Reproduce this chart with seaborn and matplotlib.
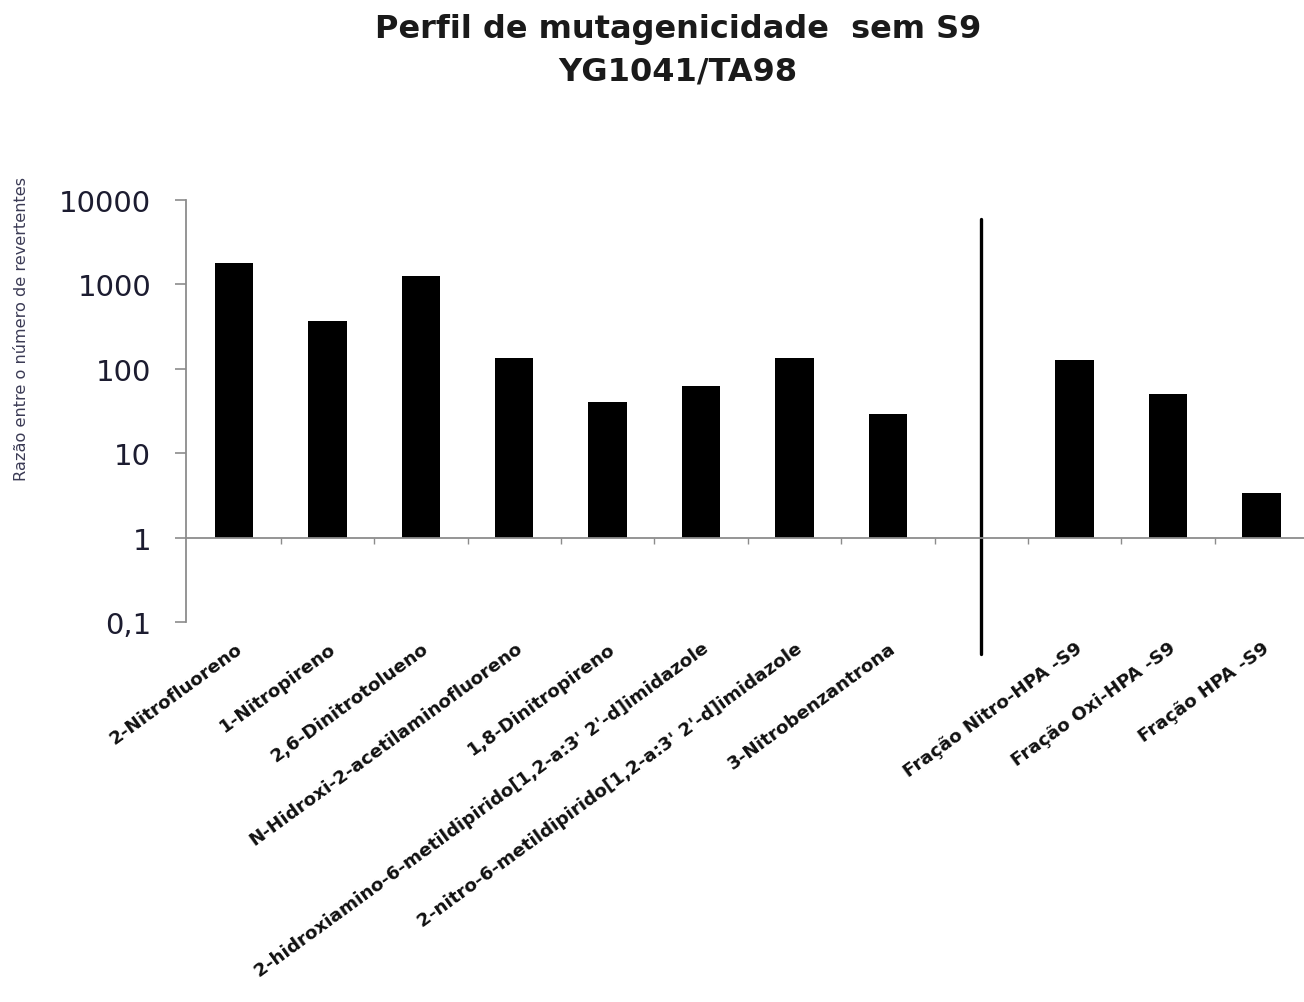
import matplotlib
matplotlib.use("Agg")
import matplotlib.pyplot as plt
import matplotlib.transforms as mtransforms
import numpy as np
import pandas as pd
import seaborn as sns
from matplotlib.ticker import FixedLocator, FixedFormatter, NullLocator

# Reference mutagens (ratio of revertants, strain YG1041/TA98, without S9)
compounds = [
    "2-Nitrofluoreno",
    "1-Nitropireno",
    "2,6-Dinitrotolueno",
    "N-Hidroxi-2-acetilaminofluoreno",
    "1,8-Dinitropireno",
    "2-hidroxiamino-6-metildipirido[1,2-a:3' 2'-d]imidazole",
    "2-nitro-6-metildipirido[1,2-a:3' 2'-d]imidazole",
    "3-Nitrobenzantrona",
]
compound_ratio = [1780, 365, 1250, 133, 40, 63, 136, 29]

# Environmental sample fractions
fractions = ["Fração Nitro-HPA -S9", "Fração Oxi-HPA -S9", "Fração HPA -S9"]
fraction_ratio = [126, 50, 3.4]

separator = " "
y_ticks = [0.1, 1, 10, 100, 1000, 10000]
y_tick_labels = ["0,1", "1", "10", "100", "1000", "10000"]

order = compounds + [separator] + fractions
df = pd.DataFrame({"amostra": compounds + fractions,
                   "razao": compound_ratio + fraction_ratio})

sns.set_theme(style="white")
plt.rcParams["font.family"] = ["DejaVu Sans"]

W, H = 1304, 1003
fig = plt.figure(figsize=(W / 100, H / 100), dpi=100)
ax = fig.add_axes([186 / W, 1 - 623 / H, (W - 186) / W, 422 / H])
ax.set_yscale("log")

sns.barplot(data=df, x="amostra", y="razao", order=order, color="black",
            saturation=1, width=0.41, linewidth=0, ax=ax)

# bars rise from the baseline at ratio = 1
for p in ax.patches:
    top = p.get_height()
    p.set_y(1)
    p.set_height(top - 1)

ax.set_ylim(0.1, 10000)
ax.set_xlim(-0.514, 11.456)

axis_grey = "#8c8c8c"
for side in ("top", "right"):
    ax.spines[side].set_visible(False)
ax.spines["bottom"].set_position(("data", 1))
for side in ("left", "bottom"):
    ax.spines[side].set_color(axis_grey)
    ax.spines[side].set_linewidth(1.3)

ax.yaxis.set_major_locator(FixedLocator(y_ticks))
ax.yaxis.set_major_formatter(FixedFormatter(y_tick_labels))
ax.yaxis.set_minor_locator(NullLocator())
ax.tick_params(axis="y", which="major", left=True, direction="out", length=8,
               width=1.2, color=axis_grey, labelsize=21, labelcolor="#1c1c30",
               pad=17)
ax.set_ylabel("")
ax.set_xlabel("")

ax.set_xticks(np.arange(len(order) - 1) + 0.5, minor=True)
ax.tick_params(axis="x", which="minor", bottom=True, direction="out",
               length=4, width=1.0, color=axis_grey)
ax.tick_params(axis="x", which="major", bottom=True, length=0, pad=78,
               labelsize=13.2, labelcolor="#111111")
shift = mtransforms.ScaledTranslation(6 / 100, 0, fig.dpi_scale_trans)
for lbl in ax.get_xticklabels():
    lbl.set_rotation(36)
    lbl.set_ha("right")
    lbl.set_va("center")
    lbl.set_rotation_mode("anchor")
    lbl.set_fontweight("bold")
    lbl.set_transform(lbl.get_transform() + shift)

# divider between reference compounds and sample fractions
ax.axvline(order.index(separator), ymin=-0.076, ymax=0.955, color="black",
           lw=2.4, clip_on=False)

fig.text(678 / W, 1 - 30 / H, "Perfil de mutagenicidade  sem S9",
         ha="center", va="center", fontsize=23, fontweight="bold",
         color="#1a1a1a")
fig.text(678 / W, 1 - 72 / H, "YG1041/TA98", ha="center", va="center",
         fontsize=23, fontweight="bold", color="#1a1a1a")

fig.text(22 / W, 1 - 329 / H, "Razão entre o número de revertentes",
         rotation=90, ha="center", va="center", fontsize=11.6,
         family=["Liberation Sans Narrow", "DejaVu Sans"], color="#3b3b55")

fig.savefig("out.png", dpi=100)
